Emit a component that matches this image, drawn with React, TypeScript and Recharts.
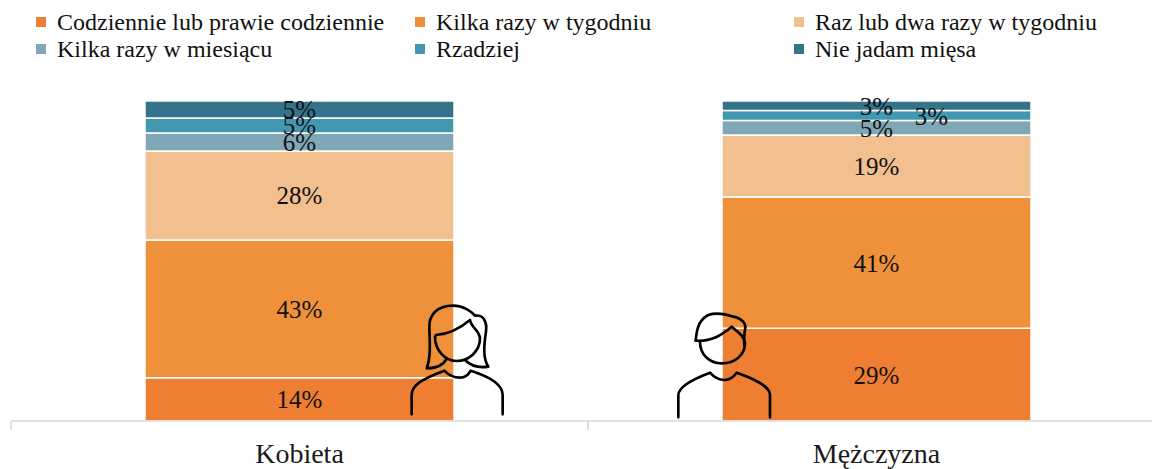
import { BarChart, Bar, XAxis, YAxis, Legend, LabelList } from 'recharts';

const categories = ['Kobieta', 'Mężczyzna'];
const seriesNames = [
    'Codziennie lub prawie codziennie',
    'Kilka razy w tygodniu',
    'Raz lub dwa razy w tygodniu',
    'Kilka razy w miesiącu',
    'Rzadziej',
    'Nie jadam mięsa',
];
const colors = ['#EE7E32', '#EE913A', '#F2BF8F', '#7FA7B5', '#4397B1', '#34738A'];
const kobieta = [13.5, 43.1, 27.8, 5.6, 4.7, 5.3];
const mezczyzna = [29, 41, 19.4, 4.5, 3.1, 3];

const data = categories.map((name, i) => {
    const row: Record<string, string | number> = { name };
    seriesNames.forEach((s, j) => {
        row[s] = i === 0 ? kobieta[j] : mezczyzna[j];
    });
    return row;
});

const FONT = '"Liberation Serif", "Times New Roman", serif';
const BAND = 577;

function CategoryTick({ x, y, payload }: any) {
    return (
        <g>
            <line x1={x - BAND / 2} x2={x - BAND / 2} y1={y - 8} y2={y + 1} stroke="#d9d9d9" strokeWidth={1.5} />
            <line x1={x + BAND / 2} x2={x + BAND / 2} y1={y - 8} y2={y + 1} stroke="#d9d9d9" strokeWidth={1.5} />
            <text x={x} y={y + 34} textAnchor="middle" fontFamily={FONT} fontSize={28} fill="#1a1a1a">
                {payload.value}
            </text>
        </g>
    );
}

function SegmentLabel({ x, y, width, height, value, index, dx = 0 }: any) {
    return (
        <text
            x={x + width / 2 + (index === 1 ? dx : 0)}
            y={y + height / 2 + 9}
            textAnchor="middle"
            fontFamily={FONT}
            fontSize={25}
            fill="#111"
        >
            {Math.round(value)}%
        </text>
    );
}

function LegendGrid({ payload }: any) {
    const columns = [36, 415, 794];
    return (
        <div style={{ position: 'relative', width: 1152, height: 60 }}>
            {(payload || []).map((item: any, i: number) => (
                <div
                    key={item.value}
                    style={{
                        position: 'absolute',
                        left: columns[i % 3],
                        top: i < 3 ? 8 : 35,
                        display: 'flex',
                        alignItems: 'center',
                        height: 28,
                        fontFamily: FONT,
                        fontSize: 24,
                        color: '#111',
                        whiteSpace: 'nowrap',
                    }}
                >
                    <span style={{ width: 10, height: 10, background: item.color, marginRight: 11 }} />
                    {item.value}
                </div>
            ))}
        </div>
    );
}

function PersonIcons() {
    return (
        <svg
            width={1152}
            height={469}
            style={{ position: 'absolute', left: 0, top: 0, pointerEvents: 'none' }}
        >
            <g
                transform="translate(400 295) scale(0.3333)"
                fill="none"
                stroke="#000"
                strokeWidth={8}
                strokeLinecap="round"
                strokeLinejoin="round"
            >
                <path d="M195 195 C210 210 235 220 265 215 C248 190 252 150 258 110 C262 80 250 58 225 62 C215 50 190 32 160 32 C110 32 86 60 88 100 C90 150 92 190 80 220 C110 220 130 210 140 192" />
                <path d="M108 120 C150 118 180 100 210 75 C215 100 238 105 240 130 C240 170 205 198 170 198 C135 198 105 165 105 125 Z" />
                <path d="M35 358 L35 300 C35 270 70 250 133 227 C150 245 165 248 180 248 C195 248 205 240 212 227 C270 245 308 270 308 300 L308 358" />
            </g>
            <g
                transform="translate(665 300) scale(0.3333)"
                fill="none"
                stroke="#000"
                strokeWidth={8}
                strokeLinecap="round"
                strokeLinejoin="round"
            >
                <path d="M92 122 C95 90 100 60 130 45 C160 35 190 45 205 50 C230 55 245 70 240 90 C238 105 235 115 238 135" />
                <path d="M92 122 C140 125 170 105 200 80 C215 95 238 105 240 130" />
                <path d="M105 125 C105 165 135 190 170 190 C210 190 240 165 240 130" />
                <path d="M40 352 L40 285 C40 260 90 235 135 218 C150 235 165 240 178 240 C195 240 205 232 215 218 C265 235 315 260 315 285 L315 352" />
            </g>
        </svg>
    );
}

export default function App() {
    return (
        <div style={{ position: 'absolute', left: 0, top: 0, width: 1152, height: 469, overflow: 'hidden', background: '#fff' }}>
            <BarChart
                width={1176}
                height={469}
                data={data}
                barSize={309}
                margin={{ top: 41, right: 11, bottom: 0, left: 11 }}
            >
                <XAxis
                    dataKey="name"
                    height={48}
                    interval={0}
                    axisLine={{ stroke: '#d9d9d9', strokeWidth: 1.5 }}
                    tickLine={false}
                    tick={<CategoryTick />}
                />
                <YAxis hide domain={[0, 100]} />
                <Legend
                    verticalAlign="top"
                    align="left"
                    itemSorter={null}
                    wrapperStyle={{ left: 0, top: 0, width: 1152 }}
                    content={<LegendGrid />}
                />
                {seriesNames.map((s, i) => (
                    <Bar
                        key={s}
                        dataKey={s}
                        stackId="a"
                        fill={colors[i]}
                        stroke="#fff"
                        strokeWidth={1.5}
                        isAnimationActive={false}
                    >
                        <LabelList
                            dataKey={s}
                            content={<SegmentLabel dx={s === 'Rzadziej' ? 55 : 0} />}
                        />
                    </Bar>
                ))}
            </BarChart>
            <PersonIcons />
        </div>
    );
}
